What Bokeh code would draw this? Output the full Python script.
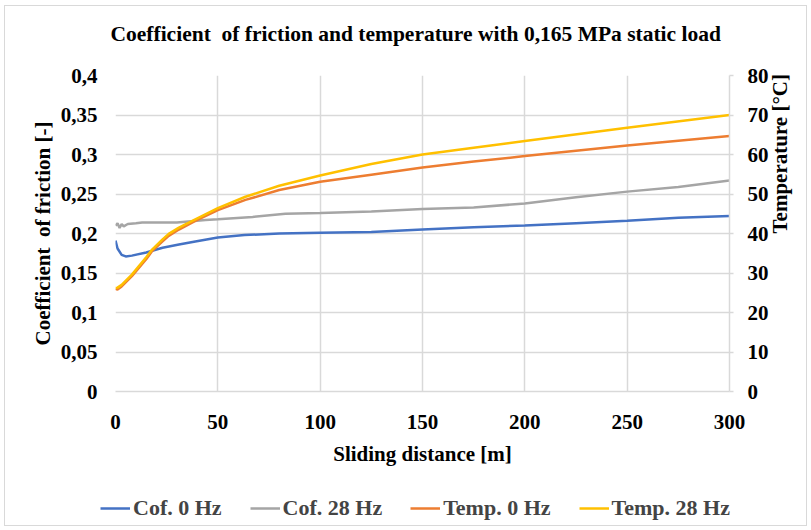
import math
from bokeh.plotting import figure
from bokeh.layouts import column
from bokeh.models import (Range1d, LinearAxis, FixedTicker, CustomJSTickFormatter,
                          Legend, LegendItem, Title)
from bokeh.embed import file_html
from bokeh.resources import INLINE

# ---- data ----
cof0_x = [0, 1, 3, 5, 8, 15, 23, 31, 39, 50, 63, 80, 100, 125, 150, 175, 200, 225, 250, 275, 300]
cof0_y = [0.191, 0.181, 0.173, 0.171, 0.172, 0.176, 0.182, 0.186, 0.190, 0.195, 0.198, 0.200,
          0.201, 0.202, 0.205, 0.208, 0.210, 0.213, 0.216, 0.220, 0.222]

cof28_x = [0, 1, 2, 3, 4, 6, 10, 13, 20, 30, 44, 50, 67, 83, 100, 125, 150, 175, 200, 225, 250, 275, 300]
cof28_y = [0.210, 0.213, 0.207, 0.212, 0.209, 0.212, 0.213, 0.214, 0.214, 0.214, 0.217, 0.218,
           0.221, 0.225, 0.226, 0.228, 0.231, 0.233, 0.238, 0.246, 0.253, 0.259, 0.267]

temp0_x = [0, 1, 3, 8, 15, 18, 23, 26, 31, 39, 50, 63.5, 80, 100, 125, 150, 175, 200, 250, 300]
temp0_y = [26.0, 25.8, 26.6, 29.2, 33.5, 35.6, 38.0, 39.4, 41.0, 43.2, 45.9, 48.5, 51.0, 53.1,
           54.9, 56.7, 58.2, 59.6, 62.3, 64.7]

temp28_x = [0, 1, 3, 8, 15, 18, 23, 26, 31, 39, 50, 63.5, 80, 100, 125, 150, 175, 200, 250, 300]
temp28_y = [26.2, 26.3, 27.0, 29.6, 34.0, 36.0, 38.5, 39.9, 41.5, 43.6, 46.4, 49.3, 52.1, 54.7,
            57.6, 60.0, 61.7, 63.4, 66.8, 70.0]

x_ticks = [0, 50, 100, 150, 200, 250, 300]
cof_ticks = [0, 0.05, 0.1, 0.15, 0.2, 0.25, 0.3, 0.35, 0.4]
temp_ticks = [0, 10, 20, 30, 40, 50, 60, 70, 80]

title = "Coefficient\u00a0 of friction and temperature with 0,165 MPa static load"
x_label = "Sliding distance [m]"
y_label = "Coefficient\u00a0 of friction [-]"
y2_label = "Temperature [°C]"
names = ["Cof. 0 Hz", "Cof. 28 Hz", "Temp. 0 Hz", "Temp. 28 Hz"]
colors = ["#4472C4", "#A5A5A5", "#ED7D31", "#FFC000"]

FONT = "Liberation Serif"
FS = "21px"
GRID = "#D9D9D9"

p = figure(width=801, height=470, output_backend="svg", toolbar_location=None,
           x_range=Range1d(0, 300), y_range=Range1d(0, 0.4),
           min_border_left=110, min_border_right=76, min_border_top=69, min_border_bottom=85)
p.extra_y_ranges = {"temp": Range1d(0, 80)}
p.outline_line_color = None
p.background_fill_color = "white"
p.border_fill_color = "white"

p.title.text = title
p.title.text_font = FONT
p.title.text_font_size = "21.5px"
p.title.text_font_style = "bold"
p.title.text_color = "black"
p.title.align = "left"
p.title.offset = -5
p.title.standoff = 10
# empty spacer between the title and the plot area
p.add_layout(Title(text=" ", text_font_size="12px", standoff=9), "above")

# axes
xa = p.xaxis[0]
xa.ticker = FixedTicker(ticks=x_ticks)
xa.axis_label = x_label
ya = p.yaxis[0]
ya.ticker = FixedTicker(ticks=cof_ticks)
ya.axis_label = y_label
ya.formatter = CustomJSTickFormatter(code="""
    return tick.toFixed(2).replace(/0+$/, '').replace(/\\.$/, '').replace('.', ',');
""")
ra = LinearAxis(y_range_name="temp", ticker=FixedTicker(ticks=temp_ticks), axis_label=y2_label)
p.add_layout(ra, "right")
if "axis_label_orientation" in ra.properties():
    ra.axis_label_orientation = math.pi / 2

for ax in (xa, ya, ra):
    ax.major_label_text_font = FONT
    ax.major_label_text_font_size = FS
    ax.major_label_text_font_style = "bold"
    ax.major_label_text_color = "black"
    ax.axis_label_text_font = FONT
    ax.axis_label_text_font_size = FS
    ax.axis_label_text_font_style = "bold"
    ax.axis_label_text_color = "black"
    ax.minor_tick_line_color = None
    ax.major_tick_in = 0

xa.axis_line_color = GRID
xa.axis_line_width = 1.5
xa.major_tick_line_color = None
xa.major_tick_out = 0
xa.major_label_standoff = 23
xa.axis_label_standoff = 10

ya.axis_line_color = None
ya.major_tick_line_color = None
ya.major_tick_out = 0
ya.major_label_standoff = 18
ya.axis_label_standoff = 3

ra.axis_line_color = GRID
ra.axis_line_width = 1.5
ra.major_tick_line_color = GRID
ra.major_tick_line_width = 1.5
ra.major_tick_out = 4
ra.major_label_standoff = 14
ra.axis_label_standoff = 8

p.xgrid.ticker = FixedTicker(ticks=x_ticks)
p.ygrid.ticker = FixedTicker(ticks=cof_ticks)
for g in (p.xgrid, p.ygrid):
    g.grid_line_color = GRID
    g.grid_line_width = 1.5

r0 = p.line(cof0_x, cof0_y, color=colors[0], line_width=2.5)
r1 = p.line(cof28_x, cof28_y, color=colors[1], line_width=2.5)
r2 = p.line(temp0_x, temp0_y, color=colors[2], line_width=2.5, y_range_name="temp")
r3 = p.line(temp28_x, temp28_y, color=colors[3], line_width=2.5, y_range_name="temp")

# legend strip under the chart (same series, drawn out of view so only the legend shows)
pl = figure(width=801, height=49, output_backend="svg", toolbar_location=None,
            x_range=Range1d(0, 300), y_range=Range1d(-2, -1),
            x_axis_location=None, y_axis_location=None, min_border=0)
pl.outline_line_color = None
pl.grid.visible = False
pl.background_fill_color = "white"
pl.border_fill_color = "white"
series = [(cof0_x, cof0_y), (cof28_x, cof28_y), (temp0_x, temp0_y), (temp28_x, temp28_y)]
leg_r = [pl.line(sx, sy, color=c, line_width=2.5) for (sx, sy), c in zip(series, colors)]
legend = Legend(items=[LegendItem(label=n, renderers=[r]) for n, r in zip(names, leg_r)],
                orientation="horizontal", location=(95, 4),
                padding=0, margin=0, spacing=28, glyph_width=30, glyph_height=22,
                label_standoff=3, label_height=22,
                label_text_font=FONT, label_text_font_size="22px", label_text_font_style="bold",
                border_line_color=None, background_fill_alpha=0)
pl.add_layout(legend)

top = column(p, styles={"border": "1px solid #d9d9d9", "border-bottom": "none",
                        "margin": "5px 0 0 4px"})
bottom = column(pl, styles={"border": "1px solid #d9d9d9", "border-top": "none",
                            "margin": "0 0 0 4px"})

open("out.html", "w").write(file_html([top, bottom], INLINE))
